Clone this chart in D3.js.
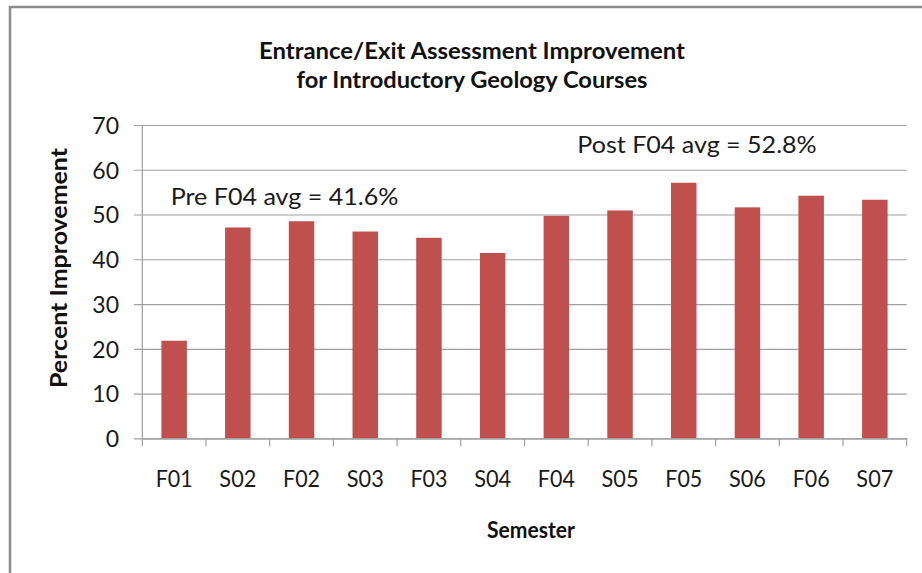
<!DOCTYPE html>
<html>
<head>
<meta charset="utf-8">
<script src="https://cdn.jsdelivr.net/npm/d3@7"></script>
<style>
  html, body { margin: 0; padding: 0; background: #fff; }
  svg { display: block; font-family: Lato, "Open Sans", sans-serif; }
</style>
</head>
<body>
<svg id="chart" width="922" height="573"></svg>
<script>
const categories = ["F01","S02","F02","S03","F03","S04","F04","S05","F05","S06","F06","S07"];
const values = [21.8, 47.1, 48.5, 46.2, 44.8, 41.4, 49.7, 50.9, 57.1, 51.6, 54.2, 53.3];
const yTicks = [0, 10, 20, 30, 40, 50, 60, 70];
const titleLines = ["Entrance/Exit Assessment Improvement", "for Introductory Geology Courses"];
const yTitle = "Percent Improvement";
const xTitle = "Semester";
const annotations = ["Pre F04 avg = 41.6%", "Post F04 avg = 52.8%"];

(function () {
const svg = d3.select("#chart");
const pLeft = 142.3, pRight = 906.7, pTop = 125, pBottom = 438.3;

const x = d3.scaleBand().domain(categories).range([pLeft, pRight]).paddingInner(0.6).paddingOuter(0.3);
const y = d3.scaleLinear().domain([0, 70]).range([pBottom, pTop]);

// outer border (left and top only visible)
svg.append("path").attr("d", "M10,573V7H922").attr("fill", "none")
  .attr("stroke", "#8c8c8c").attr("stroke-width", 2.5);

// y axis with gridlines
const yAxis = d3.axisLeft(y).tickValues(yTicks).tickSize(-(pRight - 134)).tickPadding(15);
const gy = svg.append("g").attr("transform", "translate(134,0)").call(yAxis);
gy.select(".domain").remove();
gy.selectAll(".tick line").attr("stroke", "#a0a0a0").attr("stroke-width", 1.2);
gy.selectAll(".tick text").attr("font-size", 23).attr("fill", "#1a1a1a")
  .attr("font-family", "Lato, sans-serif").attr("dy", "0.36em");

// y axis line
svg.append("line").attr("x1", pLeft).attr("x2", pLeft).attr("y1", pTop).attr("y2", pBottom)
  .attr("stroke", "#a0a0a0").attr("stroke-width", 1.2);

// bars
svg.append("g").selectAll("rect").data(values).join("rect")
  .attr("x", (d, i) => x(categories[i]))
  .attr("width", x.bandwidth())
  .attr("y", d => y(d))
  .attr("height", d => y(0) - y(d))
  .attr("fill", "#c0504d");

// x axis
const xAxis = d3.axisBottom(x).tickSize(0).tickPadding(0);
const gx = svg.append("g").attr("transform", `translate(0,${pBottom})`).call(xAxis);
gx.select(".domain").attr("stroke", "#a0a0a0").attr("stroke-width", 1.2);
gx.selectAll(".tick text").attr("font-size", 23).attr("fill", "#1a1a1a")
  .attr("font-family", "Lato, sans-serif").attr("dy", null).attr("y", 487 - pBottom)
  .attr("textLength", 37).attr("lengthAdjust", "spacingAndGlyphs");

// boundary ticks
const step = x.step();
const bounds = d3.range(categories.length + 1).map(i => x.range()[0] + i * step);
svg.append("g").selectAll("line").data(bounds).join("line")
  .attr("x1", d => d).attr("x2", d => d).attr("y1", pBottom).attr("y2", pBottom + 8)
  .attr("stroke", "#a0a0a0").attr("stroke-width", 1.2);

function fitText(sel, w) {
  sel.attr("textLength", w).attr("lengthAdjust", "spacingAndGlyphs");
  return sel;
}

// title
const titleSpec = [{y: 59, w: 426}, {y: 88, w: 351}];
titleLines.forEach((t, i) => {
  fitText(svg.append("text").attr("x", 472).attr("y", titleSpec[i].y)
    .attr("text-anchor", "middle").attr("font-size", 22.5).attr("font-weight", "bold")
    .attr("fill", "#111").text(t), titleSpec[i].w);
});

// y title
fitText(svg.append("text").attr("transform", "translate(67,268) rotate(-90)")
  .attr("text-anchor", "middle").attr("font-size", 22.5).attr("font-weight", "bold")
  .attr("fill", "#111").text(yTitle), 240);

// x title
fitText(svg.append("text").attr("x", 531).attr("y", 538)
  .attr("text-anchor", "middle").attr("font-size", 22).attr("font-weight", "bold")
  .attr("fill", "#111").text(xTitle), 88);

// annotations
const annSpec = [{x: 284.5, y: 205, w: 227.6}, {x: 697, y: 153.3, w: 239.4}];
annotations.forEach((t, i) => {
  fitText(svg.append("text").attr("x", annSpec[i].x).attr("y", annSpec[i].y)
    .attr("text-anchor", "middle").attr("font-size", 23).attr("fill", "#1a1a1a").text(t), annSpec[i].w);
});
})();
</script>
</body>
</html>
